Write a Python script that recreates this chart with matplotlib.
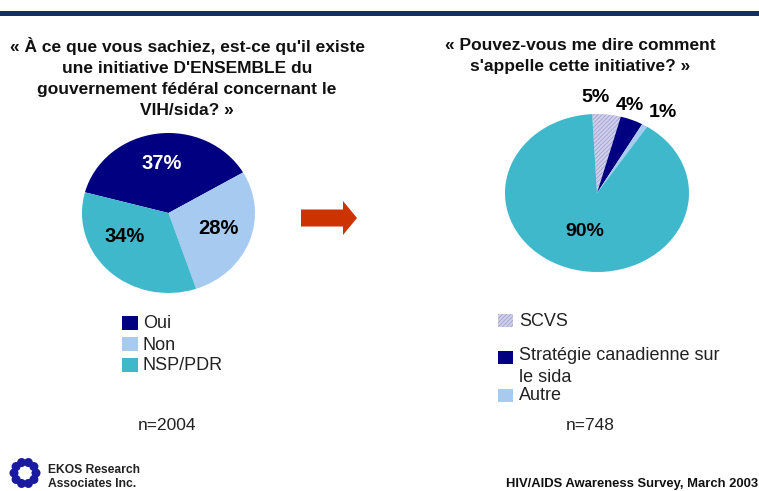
import numpy as np
import matplotlib
matplotlib.use("Agg")
import matplotlib.pyplot as plt
from matplotlib.patches import Rectangle, FancyArrow, Circle

plt.rcParams['font.family'] = ['Liberation Sans', 'DejaVu Sans']
plt.rcParams['hatch.color'] = '#8888bb'
plt.rcParams['hatch.linewidth'] = 0.6

# ---- data ----
left_title = "« À ce que vous sachiez, est-ce qu'il existe\nune initiative D'ENSEMBLE du\ngouvernement fédéral concernant le\nVIH/sida? »"
right_title = "« Pouvez-vous me dire comment\ns'appelle cette initiative? »"
left_cats = ["Oui", "Non", "NSP/PDR"]
left_vals = [37, 28, 34]
left_n = "n=2004"
right_cats = ["SCVS", "Stratégie canadienne sur\nle sida", "Autre", ""]
right_vals = [5, 4, 1, 90]
right_n = "n=748"

W, H = 759, 491
fig = plt.figure(figsize=(W / 100, H / 100), dpi=100)
bg = fig.add_axes([0, 0, 1, 1])
bg.set_xlim(0, W)
bg.set_ylim(H, 0)
bg.axis('off')

# top band
bg.add_patch(Rectangle((0, 11), W, 5, color='#0b3366', lw=0))

def fax(x0, y0, x1, y1):
    return fig.add_axes([x0 / W, 1 - y1 / H, (x1 - x0) / W, (y1 - y0) / H])

navy = '#000080'
light = '#a6caf0'
teal = '#3fb8cc'
lav = '#d0d0ec'

# left pie
axl = fax(82, 133, 255, 293)
wl, tl, al = axl.pie(left_vals, colors=[navy, light, teal], startangle=165,
                     counterclock=False, autopct='%d%%', pctdistance=0.62,
                     wedgeprops=dict(lw=0),
                     textprops=dict(fontsize=14.5, fontweight='bold'))
axl.set_xlim(-1, 1); axl.set_ylim(-1, 1); axl.set_aspect('auto'); axl.axis('off')
for t, v in zip(al, left_vals):
    t.set_text(f"{v}%")
al[0].set_color('white')
x, y = al[2].get_position(); al[2].set_position((x * 1.2, y * 0.55 - 0.05))
x, y = al[1].get_position(); al[1].set_position((x * 1.0, y * 0.9))

# right pie
axr = fax(505, 114, 689, 272)
wr, tr, ar = axr.pie(right_vals, colors=[lav, navy, light, teal], startangle=93,
                     counterclock=False, autopct='%d%%', pctdistance=0.5,
                     wedgeprops=dict(lw=0),
                     textprops=dict(fontsize=14, fontweight='bold'))
wr[0].set_hatch('////////')
wr[0].set_edgecolor('#a0a0d0')
axr.set_xlim(-1, 1); axr.set_ylim(-1, 1); axr.set_aspect('auto'); axr.axis('off')
offs = [(1.21, 91), (1.17, 72), (1.24, 55)]
for i, (d, a) in enumerate(offs):
    ar[i].set_position((d * np.cos(np.radians(a)), d * np.sin(np.radians(a))))
    ar[i].set_text(f"{right_vals[i]}%")
ar[3].set_text(f"{right_vals[3]}%")

# titles
bg.text(187, 77, left_title, ha='center', va='center', fontsize=12.5,
        fontweight='bold', color='#111111', linespacing=1.5)
bg.text(580, 56, right_title, ha='center', va='center', fontsize=12.5,
        fontweight='bold', color='#111111', linespacing=1.5)

# arrow
bg.add_patch(FancyArrow(301, 218, 56, 0, width=17, head_width=34,
                        head_length=14, length_includes_head=True,
                        color='#cc3300', lw=0))

# left legend
for i, (c, col) in enumerate(zip(left_cats, [navy, light, teal])):
    y = 323 + 21 * i
    bg.add_patch(Rectangle((122, y - 7), 16, 14, color=col, lw=0))
    bg.text(143, y + 1, c, va='center', ha='left', fontsize=13, color='#222222')

# right legend
leg_y = [320, 357, 395]
for i, col in enumerate([lav, navy, light]):
    y = leg_y[i]
    r = Rectangle((498, y - 6), 15, 13, facecolor=col, lw=0)
    if i == 0:
        r.set_hatch('////////'); r.set_edgecolor('#a0a0d0')
    bg.add_patch(r)
    if i == 1:
        bg.text(519, 347, right_cats[i], va='top', ha='left',
                fontsize=13, color='#222222', linespacing=1.4)
    else:
        bg.text(519, y + 1, right_cats[i], va='center', ha='left',
                fontsize=13, color='#222222')

bg.text(167, 426, left_n, ha='center', va='center', fontsize=12.5, color='#222222')
bg.text(590, 426, right_n, ha='center', va='center', fontsize=12.5, color='#222222')

# footer
for k in range(10):
    a = 2 * np.pi * k / 10
    bg.add_patch(Circle((25 + 11 * np.cos(a), 473 + 11 * np.sin(a)), 4.5,
                        color='#1a1aa0', lw=0))
bg.text(48, 470, "EKOS Research", fontsize=8.7, fontweight='bold', va='center', color='#222222')
bg.text(48, 484, "Associates Inc.", fontsize=8.7, fontweight='bold', va='center', color='#222222')
bg.text(758, 484, "HIV/AIDS Awareness Survey, March 2003", fontsize=9.4,
        fontweight='bold', ha='right', va='center', color='#111111')

fig.savefig('out.png', dpi=100)
